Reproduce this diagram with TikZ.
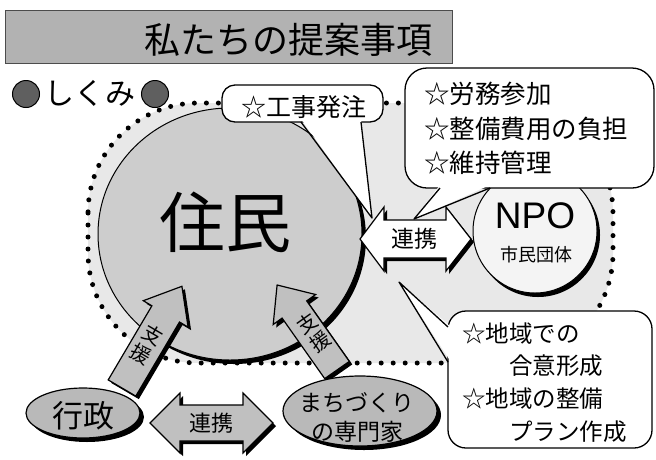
\documentclass[tikz,border=0pt]{standalone}
\usepackage{fontspec}
\setmainfont{Noto Sans CJK JP}
\newfontfamily\latinsans{Liberation Sans}
\usetikzlibrary{shapes.geometric}
\definecolor{bannergray}{RGB}{178,178,178}
\definecolor{dotgray}{RGB}{95,95,95}
\definecolor{regiongray}{RGB}{232,232,232}
\definecolor{circlegray}{RGB}{205,205,205}
\definecolor{npogray}{RGB}{244,244,244}
\definecolor{ovalgray}{RGB}{185,185,185}
\definecolor{arrowgray}{RGB}{192,192,192}
\begin{document}
\begin{tikzpicture}[x=1pt,y=-1pt,
  txt/.style={inner sep=0pt, font=\fontsize{#1pt}{#1pt}\selectfont},
  callout/.style={draw=black, fill=white, line width=1.3pt, inner sep=0pt},
  tailline/.style={line width=1.3pt, line join=round},
  dotline/.style={line width=5pt, line cap=round, dash pattern=on 0pt off 12pt},
  bigdot/.style={circle, draw=black, line width=1pt, fill=dotgray, minimum size=27pt, inner sep=0pt},
  oval/.style={ellipse, draw=black, line width=1.2pt, fill=ovalgray, inner sep=0pt},
  arrowshape/.style={draw=black, line width=1.2pt, line join=miter},
  grayarrow/.style={arrowshape, fill=arrowgray},
]
\useasboundingbox (0,0) rectangle (656,459);
\fill[white] (0,0) rectangle (656,459);

% title banner
\draw[fill=bannergray, draw=black!70, line width=0.8pt] (5,10) rectangle (452,63);
\node[txt=36] (title) at (288,40) {私たちの提案事項};

% dotted region
\fill[regiongray, rounded corners=110pt] (88,103) rectangle (613,363);
\draw[dotline, rounded corners=110pt] (88,103) rectangle (613,363);

% shikumi heading
\node[bigdot] (dotA) at (26,94) {};
\node[txt=30] (shikumi) at (90,93) {しくみ};
\node[bigdot] (dotB) at (155,94) {};

% residents circle with shadow
\fill[black] (234,238) ellipse [x radius=132pt, y radius=126pt];
\node[ellipse, draw=black, line width=1pt, fill=circlegray, minimum width=264pt, minimum height=252pt, inner sep=0pt] (jumin) at (230,234) {};
\node[txt=66] (juminT) at (225,222) {住民};

% NPO circle with shadow
\fill[black] (538,235) circle [radius=62pt];
\node[circle, draw=black, line width=1pt, fill=npogray, minimum size=124pt, inner sep=0pt] (npo) at (535,231) {};
\node[inner sep=0pt, font={\latinsans\fontsize{37pt}{37pt}\selectfont}] (npoT) at (535,216) {NPO};
\node[txt=18] (shimin) at (536,255) {市民団体};

% renkei arrow (right, white)
\fill[black] (363,242) -- (387,210) -- (387,223) -- (449,223) -- (449,210) -- (474,242) -- (449,274) -- (449,261) -- (387,261) -- (387,274) -- cycle;
\draw[arrowshape, fill=white] (360,239) -- (384,207) -- (384,220) -- (446,220) -- (446,207) -- (471,239) -- (446,271) -- (446,258) -- (384,258) -- (384,271) -- cycle;
\node[txt=23] (renkeiR) at (414,239) {連携};

% shien arrows
\fill[black] (111.2,382.9) -- (154.9,308.8) -- (146.3,303.7) -- (184.9,289.3) -- (191.1,330.1) -- (182.5,325.0) -- (138.8,399.1) -- cycle;
\draw[grayarrow] (108.2,379.9) -- (151.9,305.8) -- (143.3,300.7) -- (181.9,286.3) -- (188.1,327.1) -- (179.5,322.0) -- (135.8,396.1) -- cycle;
\node[txt=20, rotate=-30.5] (shienL1) at (152.6,335.5) {支};
\node[txt=20, rotate=-30.5] (shienL2) at (141.4,354.5) {援};
\fill[black] (327.7,381.6) -- (285.1,321.1) -- (276.2,327.5) -- (280.1,288.0) -- (318.6,297.5) -- (309.7,303.9) -- (352.3,364.4) -- cycle;
\draw[grayarrow] (324.7,378.6) -- (282.1,318.1) -- (273.2,324.5) -- (277.1,285.0) -- (315.6,294.5) -- (306.7,300.9) -- (349.3,361.4) -- cycle;
\node[txt=20, rotate=35.2] (shienR1) at (307.7,324) {支};
\node[txt=20, rotate=35.2] (shienR2) at (320.3,342) {援};

% bottom ovals with shadows
\fill[black] (87,417) ellipse [x radius=57pt, y radius=25pt];
\node[oval, minimum width=114pt, minimum height=50pt] (gyosei) at (83,413) {};
\node[txt=31] (gyoseiT) at (83,416) {行政};
\fill[black] (364,415) ellipse [x radius=77pt, y radius=35pt];
\node[oval, minimum width=154pt, minimum height=70pt] (machi) at (360,411) {};
\node[align=center, inner sep=0pt, font=\fontsize{23pt}{29pt}\selectfont] (machiT) at (357,417) {まちづくり\\の専門家};

% renkei arrow (bottom, gray)
\fill[black] (153,426) -- (183,396) -- (183,408) -- (246,408) -- (246,396) -- (276,426) -- (246,456) -- (246,444) -- (183,444) -- (183,456) -- cycle;
\draw[grayarrow] (150,423) -- (180,393) -- (180,405) -- (243,405) -- (243,393) -- (273,423) -- (243,453) -- (243,441) -- (180,441) -- (180,453) -- cycle;
\node[txt=22] (renkeiB) at (211,423) {連携};

% callout: koji hatchu
\node[callout, rounded corners=13pt, minimum width=161pt, minimum height=37pt] (kouji) at (302.5,103.5) {};
\fill[white] (301,119) -- (372,218) -- (361,119) -- cycle;
\draw[tailline] (301,122) -- (372,218) -- (361,122);
\node[txt=25] (koujiT) at (304,107) {☆工事発注};

% callout: roumu sanka
\node[callout, rounded corners=22pt, minimum width=249pt, minimum height=120pt] (roumu) at (529.5,128) {};
\fill[white] (440,185) -- (414,219) -- (490,185) -- cycle;
\draw[tailline] (440,188) -- (414,219) -- (490,188);
\node[txt=25.5, anchor=west] (r1) at (424,94) {☆労務参加};
\node[txt=25.5, anchor=west] (r2) at (424,129) {☆整備費用の負担};
\node[txt=25.5, anchor=west] (r3) at (424,163) {☆維持管理};

% callout: chiiki
\node[callout, rounded corners=18pt, minimum width=204pt, minimum height=137pt] (chiiki) at (550,379.5) {};
\fill[white] (451,327) -- (399,282) -- (451,362) -- cycle;
\draw[tailline] (448,327) -- (399,282) -- (448,362);
\node[txt=23.5, anchor=west] (c1) at (462,334) {☆地域での};
\node[txt=23.5, anchor=west] (c2) at (509,366) {合意形成};
\node[txt=23.5, anchor=west] (c3) at (462,399) {☆地域の整備};
\node[txt=23.5, anchor=west] (c4) at (509,432) {プラン作成};
\end{tikzpicture}
\end{document}
